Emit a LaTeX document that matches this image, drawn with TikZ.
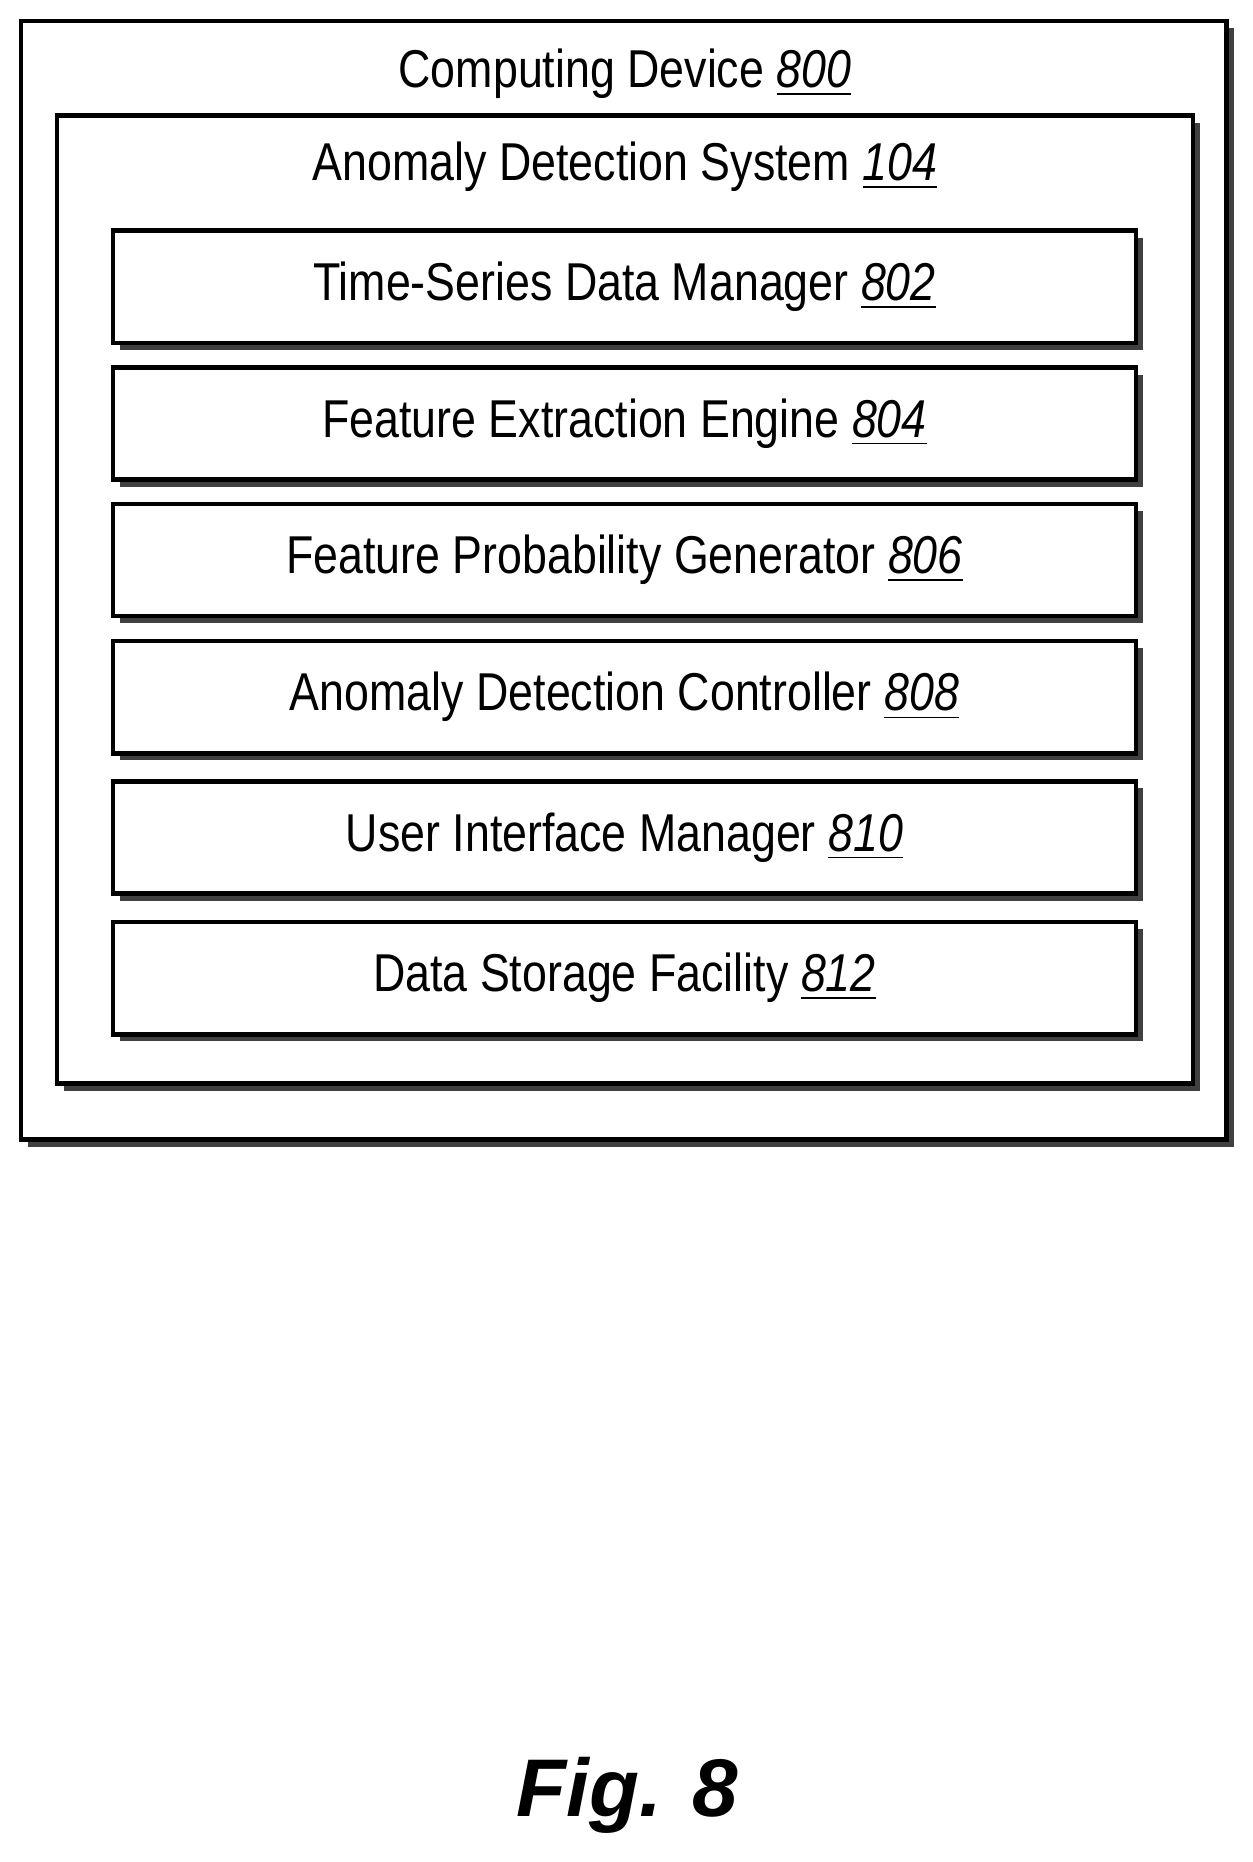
\documentclass[tikz,border=0pt]{standalone}
\usepackage{fontspec}
\setmainfont{Liberation Sans}[FakeStretch=0.84]
\newfontfamily\figfont{Liberation Sans}
\usetikzlibrary{shadows}
\newcommand{\refnum}[1]{\underline{\textit{#1}}}
\tikzset{
  panel/.style={draw, line width=1.1pt, fill=white, drop shadow={shadow xshift=0.06cm, shadow yshift=-0.06cm, fill=black!75, opacity=1}},
  module/.style={panel, minimum width=8.57cm, minimum height=0.94cm, font=\fontsize{12.7}{15}\selectfont},
  caption/.style={font=\fontsize{12.7}{15}\selectfont}
}
\begin{document}
\begin{tikzpicture}[x=0.01cm, y=-0.01cm]
\useasboundingbox (0,0) rectangle (1050,1561);
\node[panel, minimum width=10.1cm, minimum height=9.37cm] (device) at (523,486.5) {};
\node[panel, minimum width=9.52cm, minimum height=8.11cm] (system) at (524,502.5) {};
\node[caption] (devicetitle) at (524,62) {Computing Device \refnum{800}};
\node[caption] (systemtitle) at (524,140) {Anomaly Detection System \refnum{104}};
\node[module] (tsdm) at (523.5,240.5) {Time-Series Data Manager \refnum{802}};
\node[module] (fee) at (523.5,355) {Feature Extraction Engine \refnum{804}};
\node[module] (fpg) at (523.5,469.5) {Feature Probability Generator \refnum{806}};
\node[module] (adc) at (523.5,584.5) {Anomaly Detection Controller \refnum{808}};
\node[module] (uim) at (523.5,702) {User Interface Manager \refnum{810}};
\node[module] (dsf) at (523.5,820) {Data Storage Facility \refnum{812}};
\node[font=\figfont\bfseries\itshape\fontsize{19.5}{24}\selectfont] (fig) at (526,1505) {Fig. 8};
\end{tikzpicture}
\end{document}
